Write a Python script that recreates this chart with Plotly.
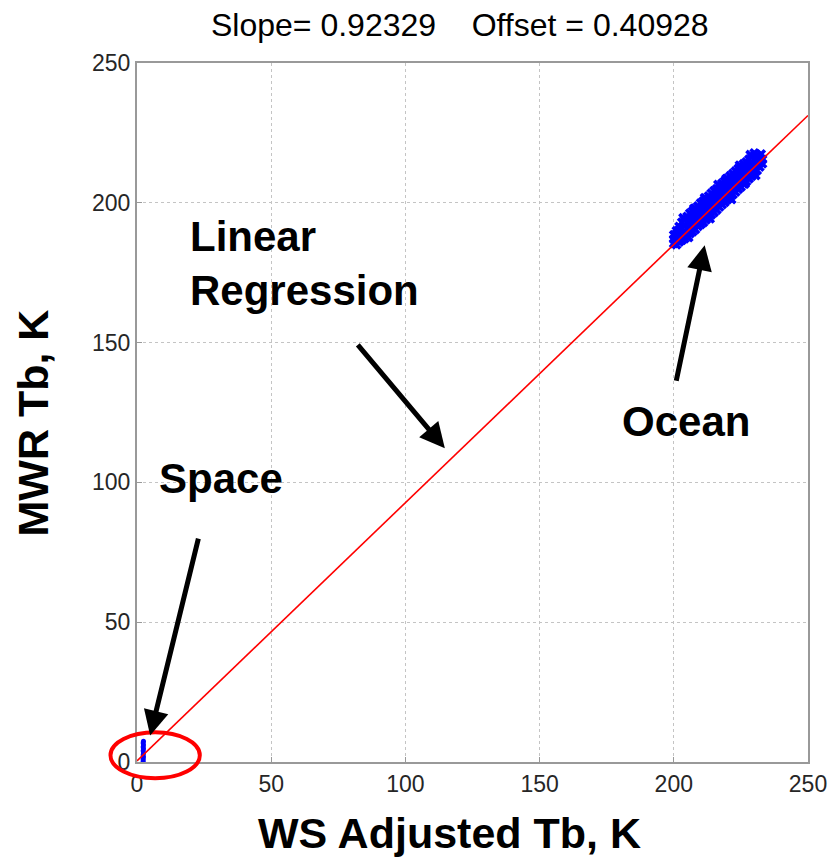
import plotly.graph_objects as go

# Fit coefficients shown in the heading
SLOPE = 0.92329
OFFSET = 0.40928

# Axis ticks
TICKS = [0, 50, 100, 150, 200, 250]

# Cold-space calibration samples (WS adjusted Tb, MWR Tb)
space_ws = [2.3, 2.3, 2.4, 2.3, 2.4, 2.3, 2.4, 2.3, 2.4, 2.3, 2.4]
space_mwr = [0.3, 1.0, 1.8, 2.5, 3.2, 4.0, 4.7, 5.4, 6.1, 6.8, 7.4]

# Ocean scene samples (WS adjusted Tb, MWR Tb)
ocean_ws = [
    200.0, 200.0, 200.0,
    201.0, 201.0, 201.0, 201.0,
    202.0, 202.0, 202.0, 202.0,
    203.0, 203.0, 203.0, 203.0,
    204.0, 204.0, 204.0, 204.0,
    205.0, 205.0, 205.0, 205.0,
    206.0, 206.0, 206.0, 206.0,
    207.0, 207.0, 207.0, 207.0,
    208.0, 208.0, 208.0, 208.0,
    209.0, 209.0, 209.0, 209.0,
    210.0, 210.0, 210.0, 210.0,
    211.0, 211.0, 211.0, 211.0,
    212.0, 212.0, 212.0, 212.0,
    213.0, 213.0, 213.0, 213.0,
    214.0, 214.0, 214.0, 214.0,
    215.0, 215.0, 215.0, 215.0,
    216.0, 216.0, 216.0, 216.0,
    217.0, 217.0, 217.0, 217.0,
    218.0, 218.0, 218.0, 218.0,
    219.0, 219.0, 219.0, 219.0,
    220.0, 220.0, 220.0, 220.0,
    221.0, 221.0, 221.0, 221.0,
    222.0, 222.0, 222.0, 222.0,
    223.0, 223.0, 223.0, 223.0,
    224.0, 224.0, 224.0, 224.0,
    225.0, 225.0, 225.0, 225.0,
    226.0, 226.0, 226.0, 226.0,
    227.0, 227.0, 227.0, 227.0,
    228.0, 228.0, 228.0, 228.0,
    229.0, 229.0, 229.0, 229.0,
    230.0, 230.0, 230.0, 230.0,
    231.0, 231.0, 231.0, 231.0,
    232.0, 232.0, 232.0,
    233.0, 233.0,
    # scattered outliers along the band edges
    203.5, 207.5, 211.5, 216.5, 219.5, 224.5, 228.5, 232.5,
    205.5, 213.5, 221.5, 226.5, 230.5,
]
ocean_mwr = [
    185.5, 187.0, 188.5,
    185.0, 186.8, 188.9, 190.0,
    186.0, 188.2, 190.3, 191.5,
    186.6, 188.9, 191.0, 193.0,
    187.2, 189.5, 191.9, 194.0,
    188.0, 190.6, 192.8, 195.1,
    189.0, 191.2, 193.6, 196.2,
    189.7, 192.3, 194.6, 197.0,
    190.5, 193.0, 195.4, 198.0,
    191.6, 194.0, 196.5, 198.8,
    192.3, 194.8, 197.3, 199.9,
    193.0, 195.9, 198.2, 200.6,
    194.0, 196.6, 199.1, 201.5,
    194.9, 197.4, 200.1, 202.4,
    195.8, 198.4, 200.9, 203.4,
    196.6, 199.2, 201.8, 204.3,
    197.5, 200.2, 202.8, 205.0,
    198.5, 201.0, 203.6, 206.1,
    199.4, 202.0, 204.4, 207.0,
    200.2, 202.9, 205.5, 207.8,
    201.2, 203.8, 206.2, 208.7,
    202.0, 204.7, 207.1, 209.6,
    203.0, 205.6, 208.0, 210.4,
    203.9, 206.4, 209.0, 211.3,
    204.9, 207.5, 209.8, 212.2,
    205.7, 208.3, 210.8, 213.0,
    206.8, 209.4, 211.6, 213.9,
    207.6, 210.2, 212.6, 214.6,
    208.6, 211.1, 213.4, 215.5,
    209.5, 212.0, 214.3, 216.6,
    210.6, 212.9, 215.2, 217.8,
    211.6, 213.6, 215.6, 217.0,
    212.8, 214.3, 216.0,
    214.0, 215.5,
    194.6, 197.9, 201.8, 206.5, 208.6, 213.4, 217.2, 217.4,
    187.6, 194.3, 201.2, 206.8, 209.8,
]

# Regression line end points along the WS axis
fit_ws = [0, 250]
fit_mwr = [SLOPE * v + OFFSET for v in fit_ws]

FONT = "Arial, Liberation Sans, sans-serif"

fig = go.Figure()

fig.add_trace(go.Scatter(
    x=space_ws, y=space_mwr, mode="markers",
    marker=dict(color="#0000ff", size=5, line=dict(width=0)),
    showlegend=False, cliponaxis=False,
))
fig.add_trace(go.Scatter(
    x=ocean_ws, y=ocean_mwr, mode="markers",
    marker=dict(color="#0000ff", size=9, symbol="x"),
    showlegend=False,
))
fig.add_trace(go.Scatter(
    x=fit_ws, y=fit_mwr, mode="lines",
    line=dict(color="#ff0000", width=1.6),
    showlegend=False,
))

axis_common = dict(
    range=[0, 250],
    tickvals=TICKS,
    ticktext=[str(t) for t in TICKS],
    showgrid=True,
    gridcolor="#c4c4c4",
    griddash="dot",
    gridwidth=1,
    zeroline=False,
    showline=True,
    mirror=True,
    linecolor="#999999",
    linewidth=2,
    ticks="inside",
    ticklen=5,
    tickcolor="#999999",
    tickfont=dict(family=FONT, size=23, color="#262626"),
)
fig.update_xaxes(**axis_common)
fig.update_yaxes(**axis_common)

label_font = dict(family=FONT, size=42, color="#000000")
axis_title_font = dict(family=FONT, size=43, color="#000000")


def bold(s):
    return f"<b>{s}</b>"


annotations = [
    # heading
    dict(text="Slope=\u00a00.92329\u00a0\u00a0\u00a0\u00a0Offset\u00a0=\u00a00.40928",
         xref="paper", yref="paper", x=0.481, y=1.054,
         xanchor="center", yanchor="middle",
         showarrow=False, font=dict(family=FONT, size=32, color="#000000")),
    # axis titles
    dict(text=bold("WS Adjusted Tb, K"), xref="paper", yref="paper",
         x=0.466, y=-0.102, xanchor="center", yanchor="middle",
         showarrow=False, font=axis_title_font),
    dict(text=bold("MWR Tb, K"), xref="paper", yref="paper",
         x=-0.1547, y=0.4846, xanchor="center", yanchor="middle",
         textangle=-90, showarrow=False, font=axis_title_font),
    # callouts
    dict(text=bold("Linear"), xref="x", yref="y", x=19.0, y=188.0,
         xanchor="left", yanchor="middle", showarrow=False, font=label_font),
    dict(text=bold("Regression"), xref="x", yref="y", x=19.0, y=168.7,
         xanchor="left", yanchor="middle", showarrow=False, font=label_font),
    dict(text=bold("Ocean"), xref="x", yref="y", x=204.4, y=121.8,
         xanchor="center", yanchor="middle", showarrow=False, font=label_font),
    dict(text=bold("Space"), xref="x", yref="y", x=31.2, y=101.5,
         xanchor="center", yanchor="middle", showarrow=False, font=label_font),
]

# arrows: (tail x, tail y, head x, head y) in data units
arrows = [
    (81.8, 149.7, 114.7, 112.2),
    (200.8, 135.8, 211.5, 184.8),
    (23.0, 80.4, 4.9, 9.5),
]
for tx, ty, hx, hy in arrows:
    annotations.append(dict(
        x=hx, y=hy, ax=tx, ay=ty, xref="x", yref="y", axref="x", ayref="y",
        text="", showarrow=True, arrowhead=2, arrowsize=1.0, arrowwidth=5,
        arrowcolor="#000000",
    ))

fig.update_layout(
    width=839, height=862,
    margin=dict(l=137, r=26, t=63, b=100),
    paper_bgcolor="#ffffff",
    plot_bgcolor="#ffffff",
    annotations=annotations,
    shapes=[dict(
        type="circle", xref="paper", yref="paper",
        x0=-0.0395, x1=0.0936, y0=-0.0233, y1=0.0425,
        line=dict(color="#ff0000", width=4), layer="above",
    )],
)

fig.write_html("out.html")
